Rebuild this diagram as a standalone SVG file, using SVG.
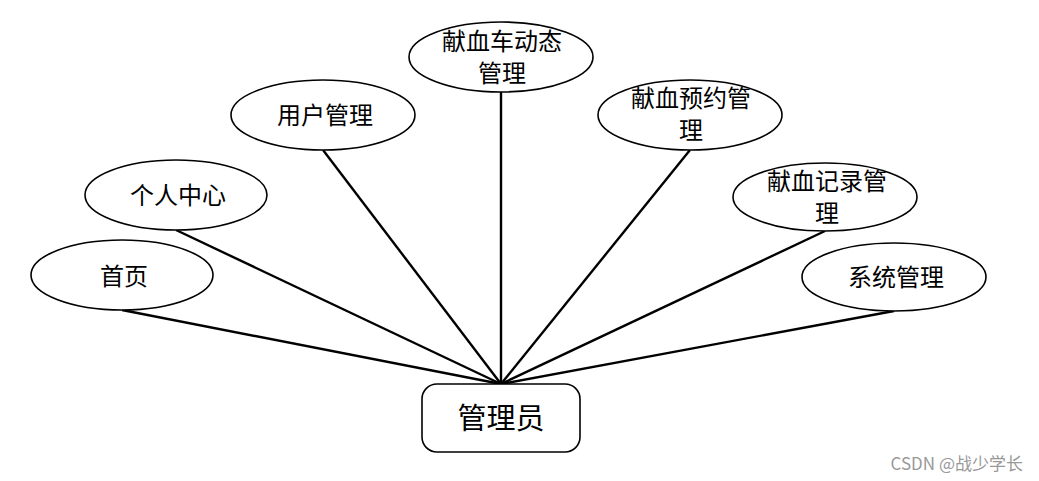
<svg xmlns="http://www.w3.org/2000/svg" width="1039" height="481" viewBox="0 0 1039 481">
<style>
.n{fill:#fff;stroke:#000;stroke-width:1.6}
.t{font-family:"Noto Sans CJK SC","Noto Sans",sans-serif;font-size:24px;fill:#000;text-anchor:middle;dominant-baseline:central}
.c line{stroke:#000;stroke-width:2.4}
</style>
<rect width="1039" height="481" fill="#fff"/>
<g class="c" id="connectors">
<line x1="501" y1="384" x2="122" y2="310"/>
<line x1="501" y1="384" x2="176" y2="230"/>
<line x1="501" y1="384" x2="323" y2="150"/>
<line x1="501" y1="384" x2="501" y2="92"/>
<line x1="501" y1="384" x2="690" y2="150"/>
<line x1="501" y1="384" x2="825" y2="231"/>
<line x1="501" y1="384" x2="894" y2="311"/>
</g>
<g id="n-home"><ellipse class="n" cx="122" cy="275" rx="91" ry="35"/><text class="t" x="124" y="274">首页</text></g>
<g id="n-personal"><ellipse class="n" cx="176" cy="195" rx="91" ry="35"/><text class="t" x="178" y="193">个人中心</text></g>
<g id="n-user"><ellipse class="n" cx="323" cy="115" rx="92" ry="35"/><text class="t" x="325" y="113">用户管理</text></g>
<g id="n-bus"><ellipse class="n" cx="501" cy="57" rx="92" ry="35"/><text class="t" x="502" y="39">献血车动态</text><text class="t" x="502" y="71">管理</text></g>
<g id="n-appoint"><ellipse class="n" cx="690" cy="115" rx="92" ry="35"/><text class="t" x="691" y="96">献血预约管</text><text class="t" x="691" y="128">理</text></g>
<g id="n-record"><ellipse class="n" cx="825" cy="197" rx="92" ry="34"/><text class="t" x="827" y="179">献血记录管</text><text class="t" x="827" y="211">理</text></g>
<g id="n-system"><ellipse class="n" cx="894" cy="277" rx="92" ry="34"/><text class="t" x="896" y="275">系统管理</text></g>
<g id="n-admin"><rect class="n" x="422" y="384" width="158" height="68" rx="15"/><text class="t" x="501" y="416" style="font-size:29px">管理员</text></g>
<text x="1023" y="462" style="font-family:'Noto Sans CJK SC','Noto Sans',sans-serif;font-size:17px;fill:#999;text-anchor:end;dominant-baseline:central">CSDN @战少学长</text>
</svg>
